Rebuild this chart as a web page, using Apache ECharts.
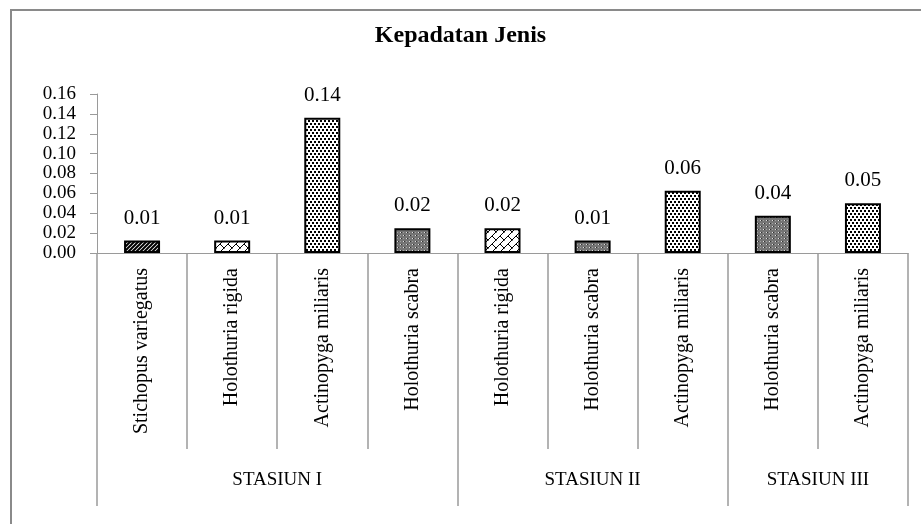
<!DOCTYPE html>
<html>
<head>
<meta charset="utf-8">
<script src="https://cdn.jsdelivr.net/npm/echarts@6/dist/echarts.min.js"></script>
<style>
html,body{margin:0;padding:0;background:#fff;}
#chart{width:921px;height:524px;}
</style>
</head>
<body>
<div id="chart"></div>
<script>
// ---- data ----
var species = ['Stichopus variegatus','Holothuria rigida','Actinopyga miliaris','Holothuria scabra',
               'Holothuria rigida','Holothuria scabra','Actinopyga miliaris',
               'Holothuria scabra','Actinopyga miliaris'];
var values = [0.0125, 0.0125, 0.1362, 0.0249, 0.0249, 0.0125, 0.0627, 0.0376, 0.0501];
var stations = ['STASIUN I','STASIUN II','STASIUN III'];
var stationCounts = [4, 3, 2];
var yTicks = [0, 0.02, 0.04, 0.06, 0.08, 0.10, 0.12, 0.14, 0.16];

// ---- patterns ----
function tile(w, h, draw){
  var c = document.createElement('canvas'); c.width = w; c.height = h;
  var g = c.getContext('2d'); draw(g, w, h); return c;
}
var patStripes = tile(4, 4, function(g){
  g.fillStyle = '#fff'; g.fillRect(0,0,4,4);
  g.strokeStyle = '#000'; g.lineWidth = 2;
  g.beginPath(); g.moveTo(-1,5); g.lineTo(5,-1); g.stroke();
  g.beginPath(); g.moveTo(-1,1); g.lineTo(1,-1); g.stroke();
  g.beginPath(); g.moveTo(3,5); g.lineTo(5,3); g.stroke();
});
var patBrick = tile(8, 8, function(g){
  g.fillStyle = '#fff'; g.fillRect(0,0,8,8);
  g.strokeStyle = '#000'; g.lineWidth = 1;
  g.beginPath(); g.moveTo(-1,9); g.lineTo(9,-1); g.stroke();
  g.beginPath(); g.moveTo(4,4); g.lineTo(8,8); g.stroke();
  g.beginPath(); g.moveTo(0,0); g.lineTo(0.5,0.5); g.stroke();
});
var patDots = tile(4, 6, function(g){
  g.fillStyle = '#fff'; g.fillRect(0,0,4,6);
  g.fillStyle = '#000';
  g.fillRect(0,0,2,2); g.fillRect(2,3,2,2);
});
var patGrey = tile(6, 6, function(g){
  g.fillStyle = '#747474'; g.fillRect(0,0,6,6);
  g.fillStyle = '#e0e0e0';
  g.fillRect(1,1,1,1); g.fillRect(4,4,1,1);
  g.fillStyle = '#a0a0a0';
  g.fillRect(4,1,1,1); g.fillRect(1,4,1,1);
  g.fillStyle = '#333';
  g.fillRect(2,1,1,1); g.fillRect(5,4,1,1);
});
var patternBySpecies = {
  'Stichopus variegatus': patStripes,
  'Holothuria rigida': patBrick,
  'Actinopyga miliaris': patDots,
  'Holothuria scabra': patGrey
};

// derived station boundaries and centres
var bounds = [0], centers = [];
stationCounts.forEach(function(n, i){
  var s = bounds[bounds.length-1];
  bounds.push(s + n); centers.push(s + n/2);
});

var font = 'Liberation Serif';
var axisGrey = '#9a9a9a';

var chart = echarts.init(document.getElementById('chart'));
chart.setOption({
  animation: false,
  backgroundColor: '#fff',
  title: {
    text: 'Kepadatan Jenis', left: 'center', top: 19,
    textStyle: {fontFamily: font, fontWeight: 'bold', fontSize: 24, color: '#000'}
  },
  graphic: [{
    type: 'line', silent: true,
    shape: {x1: 11, y1: 9, x2: 11, y2: 600},
    style: {stroke: '#8a8a8a', lineWidth: 2}
  }, {
    type: 'line', silent: true,
    shape: {x1: 10, y1: 10, x2: 1000, y2: 10},
    style: {stroke: '#8a8a8a', lineWidth: 2}
  }],
  grid: {left: 97, right: 13, top: 94, bottom: 271, containLabel: false},
  xAxis: [{
    type: 'category',
    data: species,
    position: 'bottom',
    axisLine: {show: true, lineStyle: {color: axisGrey, width: 1}},
    axisTick: {show: true, interval: 0, length: 196, lineStyle: {color: axisGrey, width: 1.5}},
    axisLabel: {interval: 0, rotate: 90, margin: 15, fontFamily: font, fontSize: 20, color: '#000'},
    splitLine: {show: false}
  }, {
    type: 'value',
    position: 'bottom',
    offset: 196,
    min: 0, max: bounds[bounds.length-1],
    axisLine: {show: false},
    axisTick: {show: true, length: 57, customValues: bounds, lineStyle: {color: axisGrey, width: 1.5}},
    axisLabel: {
      customValues: centers, margin: 22, fontFamily: font, fontSize: 19, color: '#000',
      formatter: function(v){ var i = centers.indexOf(v); return i >= 0 ? stations[i] : ''; }
    },
    splitLine: {show: false}
  }],
  yAxis: {
    type: 'value',
    min: yTicks[0], max: yTicks[yTicks.length-1], interval: 0.02,
    axisLine: {show: true, lineStyle: {color: axisGrey, width: 1}},
    axisTick: {show: true, length: 7, lineStyle: {color: axisGrey}},
    axisLabel: {margin: 21, fontFamily: font, fontSize: 19, color: '#000',
      showMinLabel: true, showMaxLabel: true,
      formatter: function(v){ return v.toFixed(2); }},
    splitLine: {show: false}
  },
  series: [{
    type: 'bar',
    xAxisIndex: 0,
    barWidth: 36,
    data: values.map(function(v, i){
      return {value: v, itemStyle: {color: {image: patternBySpecies[species[i]], repeat: 'repeat'}}};
    }),
    itemStyle: {borderColor: '#000', borderWidth: 2},
    label: {
      show: true, position: 'top', distance: 12,
      fontFamily: font, fontSize: 21, color: '#000',
      formatter: function(p){ return p.value.toFixed(2); }
    }
  }]
});
</script>
</body>
</html>
